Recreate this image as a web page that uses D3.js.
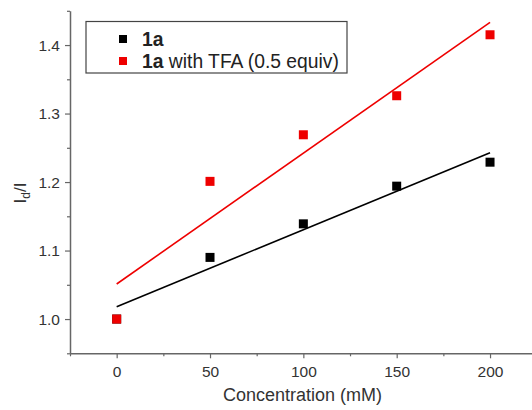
<!DOCTYPE html>
<html><head><meta charset="utf-8">
<script src="https://cdn.jsdelivr.net/npm/d3@7"></script>
<style>body{margin:0;background:#fff}svg{display:block;font-family:"Liberation Sans",Arial,sans-serif}</style>
</head><body><svg id="c" width="532" height="410"></svg>
<script>
const concentrations = [0, 50, 100, 150, 200];
const series1a = [1.0, 1.09, 1.139, 1.194, 1.229];
const series1aTFA = [1.0, 1.201, 1.269, 1.326, 1.415];
const seriesNames = ["1a", "1a with TFA (0.5 equiv)"];
const seriesColors = ["#000000", "#ee0000"];
const xTicks = [0, 50, 100, 150, 200];
const yTicks = [1.0, 1.1, 1.2, 1.3, 1.4];

const svg = d3.select("#c");
const x = d3.scaleLinear().domain([-25, 225]).range([70, 536.7]);
const y = d3.scaleLinear().domain([0.95, 1.45]).range([353.3, 10.8]);

function fit(xs, ys){
  const n = xs.length, mx = d3.mean(xs), my = d3.mean(ys);
  let sxy = 0, sxx = 0;
  for (let i = 0; i < n; i++){ sxy += (xs[i]-mx)*(ys[i]-my); sxx += (xs[i]-mx)**2; }
  const b = sxy/sxx; return {a: my - b*mx, b};
}

const axisColor = "#666";
const xMinor = [-25, 25, 75, 125, 175, 225];
const yMinor = [0.95, 1.05, 1.15, 1.25, 1.35, 1.45];

const gx = svg.append("g").attr("transform", "translate(0,353.3)")
  .call(d3.axisBottom(x).tickValues(xTicks).tickSize(5).tickSizeOuter(0).tickPadding(8).tickFormat(d3.format("d")));
const gxm = svg.append("g").attr("transform", "translate(0,353.3)")
  .call(d3.axisBottom(x).tickValues(xMinor).tickSize(3).tickSizeOuter(0).tickFormat(""));
gxm.select(".domain").remove();
const gy = svg.append("g").attr("transform", "translate(70,0)")
  .call(d3.axisLeft(y).tickValues(yTicks).tickSize(5).tickSizeOuter(0).tickPadding(5).tickFormat(d3.format(".1f")));
const gym = svg.append("g").attr("transform", "translate(70,0)")
  .call(d3.axisLeft(y).tickValues(yMinor).tickSize(3).tickSizeOuter(0).tickFormat(""));
gym.select(".domain").remove();
svg.selectAll(".domain").attr("stroke", axisColor).attr("stroke-width", 1.5);
svg.selectAll(".tick line").attr("stroke", axisColor).attr("stroke-width", 1.2);
svg.selectAll(".tick text").attr("fill", "#333").style("font-size", "15.5px").style("font-family", '"Liberation Sans",Arial,sans-serif');

// axis titles
svg.append("text").attr("x", 302.5).attr("y", 401).attr("text-anchor", "middle")
  .attr("fill", "#333").style("font-size", "18px").text("Concentration (mM)");
const yl = svg.append("text").attr("transform", "translate(26,193) rotate(-90)")
  .attr("text-anchor", "middle").attr("fill", "#333").style("font-size", "17px");
yl.append("tspan").text("I");
yl.append("tspan").attr("dy", 4).style("font-size", "12px").text("d");
yl.append("tspan").attr("dy", -4).text("/I");

// fit lines and points
const allSeries = [series1a, series1aTFA];
allSeries.forEach((ys, i) => {
  const f = fit(concentrations, ys);
  const x0 = concentrations[0], x1 = concentrations[concentrations.length-1];
  svg.append("line").attr("x1", x(x0)).attr("y1", y(f.a + f.b*x0))
    .attr("x2", x(x1)).attr("y2", y(f.a + f.b*x1))
    .attr("stroke", seriesColors[i]).attr("stroke-width", 1.6);
});
allSeries.forEach((ys, i) => {
  svg.append("g").selectAll("rect").data(ys).join("rect")
    .attr("x", (d, j) => x(concentrations[j]) - 4.5)
    .attr("y", d => y(d) - 4.5)
    .attr("width", 9).attr("height", 9)
    .attr("fill", seriesColors[i]);
});

// legend
const lg = svg.append("g");
lg.append("rect").attr("x", 86).attr("y", 21.5).attr("width", 261).attr("height", 51.5)
  .attr("fill", "#fff").attr("stroke", "#444").attr("stroke-width", 1.2);
seriesNames.forEach((name, i) => {
  const cy = 39 + i*22;
  lg.append("rect").attr("x", 119).attr("y", cy - 4).attr("width", 8).attr("height", 8).attr("fill", seriesColors[i]);
  const t = lg.append("text").attr("x", 142).attr("y", cy + 7).attr("fill", "#222").style("font-size", "19.3px");
  t.append("tspan").style("font-weight", "bold").text("1a");
  if (name.length > 2) t.append("tspan").text(name.slice(2));
});
</script></body></html>
